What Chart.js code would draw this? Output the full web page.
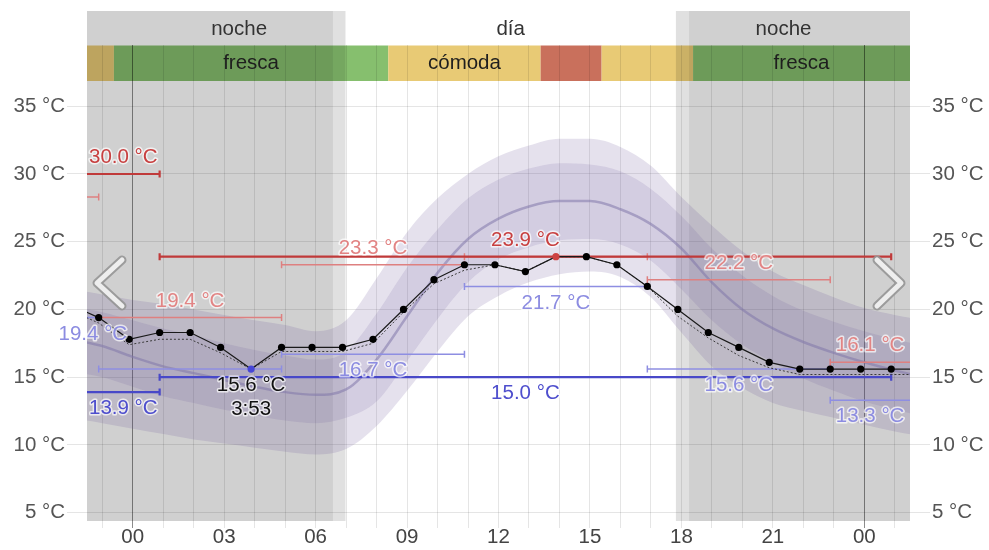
<!DOCTYPE html>
<html><head><meta charset="utf-8">
<script src="https://cdn.jsdelivr.net/npm/chart.js@4.4.1/dist/chart.umd.min.js"></script>
<style>html,body{margin:0;padding:0;background:#fff;overflow:hidden}canvas{display:block}</style>
</head><body>
<canvas id="c" width="989" height="550"></canvas>
<script>
// ---------- DATA ----------
// observation times (hours, observations at hh:53)
const obsTimes = [-2.117,-1.117,-0.117,0.883,1.883,2.883,3.883,4.883,5.883,6.883,7.883,8.883,9.883,10.883,11.883,12.883,13.883,14.883,15.883,16.883,17.883,18.883,19.883,20.883,21.883,22.883,23.883,24.883,25.883];
const obsTemps = [20.4,19.4,17.8,18.3,18.3,17.2,15.6,17.2,17.2,17.2,17.8,20.0,22.2,23.3,23.3,22.8,23.9,23.9,23.3,21.7,20.0,18.3,17.2,16.1,15.6,15.6,15.6,15.6,15.6];
const altTemps = [20.0,19.0,17.4,17.8,17.8,16.8,15.6,16.9,16.9,16.9,17.5,19.8,21.9,22.9,23.3,22.8,23.9,23.9,23.3,21.7,19.5,17.9,16.6,15.7,15.2,15.2,15.2,15.2,15.2];
const obsComfort = ['cómoda','cómoda','fresca','fresca','fresca','fresca','fresca','fresca','fresca','fresca','fresca','cómoda','cómoda','cómoda','cómoda','cómoda','caliente','caliente','cómoda','cómoda','cómoda','fresca','fresca','fresca','fresca','fresca','fresca','fresca','fresca'];

// historical distribution (hourly)
const histHours = [-2,-1,0,1,2,3,4,5,6,7,8,9,10,11,12,13,14,15,16,17,18,19,20,21,22,23,24,25,26];
const histAvg = [17.8,17.3,16.5,15.8,15.3,14.8,14.3,13.9,13.7,14.1,16.3,19.5,22.7,25.2,26.7,27.6,28.0,28.0,27.4,26.3,24.5,22.0,20.0,18.6,17.6,16.8,16.1,15.5,15.0];
const histP75 = [20.2,19.8,19.2,18.6,18.1,17.5,17.0,16.6,16.3,16.9,19.7,23.1,25.9,28.2,29.6,30.4,30.8,30.7,30.2,28.9,26.9,24.5,22.5,21.0,19.9,19.1,18.4,17.8,17.3];
const histP25 = [15.4,15.0,14.3,13.6,13.1,12.6,12.2,11.8,11.6,12.0,13.2,16.2,19.3,22.0,23.7,24.6,25.1,25.2,24.8,23.6,21.5,19.2,17.4,16.1,14.9,14.0,13.2,12.6,12.1];
const histP90 = [21.5,21.1,20.7,20.4,20.0,19.6,19.2,18.85,18.4,19.2,22.3,25.7,28.2,30.0,31.3,32.1,32.6,32.6,32.0,30.6,28.3,26.2,24.3,22.8,21.8,20.9,20.1,19.6,19.2];
const histP10 = [12.0,11.6,11.2,10.8,10.4,10.1,9.8,9.5,9.3,9.7,11.4,14.0,16.9,19.5,21.0,22.0,22.6,22.8,22.4,20.9,18.3,15.8,14.2,13.1,12.5,12.0,11.5,11.0,10.6];

// 24-hour high / low bars
const dayStart = [-23.117, 0.883];
const dayEnd   = [0.883, 24.883];
const dayHigh  = [30.0, 23.9];
const dayLow   = [13.9, 15.0];
// 6-hour high / low bars
const sixStart = [-7.117,-1.117,4.883,10.883,16.883,22.883];
const sixEnd   = [-1.117,4.883,10.883,16.883,22.883,28.883];
const sixHigh  = [28.3,19.4,23.3,23.9,22.2,16.1];
const sixLow   = [19.4,15.6,16.7,21.7,15.6,13.3];

// daylight
const shadeStart = [-1.5, 6.57, 17.82, 18.25];
const shadeEnd   = [6.57, 6.98, 18.25, 25.5];
const shadeKind  = ['night','twilight','twilight','night'];
const periodLabels = ['noche','día','noche'];
const periodFrom = [0, 6.98, 17.82];
const periodTo   = [6.98, 17.82, 24.88];

// axes
const xTickHours = [-1,0,1,2,3,4,5,6,7,8,9,10,11,12,13,14,15,16,17,18,19,20,21,22,23,24,25];
const yTicks = [5,10,15,20,25,30,35];
const X_MIN = -1.5, X_MAX = 25.5, Y_MIN = 4.3875, Y_MAX = 39.52;

// ---------- STYLE ----------
const FONT_FAMILY = "'Liberation Sans', Arial, sans-serif";
const FONT = "20.5px " + FONT_FAMILY;
const comfortColor = {'fresca':'rgb(134,191,110)','cómoda':'rgb(232,202,117)','caliente':'rgb(201,112,92)'};
const DARK_RED='rgb(192,58,58)', DARK_RED_T='rgb(200,64,64)', FADE_RED='rgb(222,128,128)', FADE_RED_T='rgb(226,132,132)';
const DARK_BLUE='rgb(72,72,200)', DARK_BLUE_T='rgb(78,78,205)', FADE_BLUE='rgb(142,142,226)', FADE_BLUE_T='rgb(140,140,225)';

Chart.defaults.font.family = FONT_FAMILY;
Chart.defaults.font.size = 20.5;

const xy = (xs, ys) => xs.map((x, i) => ({x, y: ys[i]}));

// min / max within the day
let minI = -1, maxI = -1;
obsTimes.forEach((t, i) => {
  if (t < dayStart[1] - 1e-6 || t > dayEnd[1] + 1e-6) return;
  if (minI < 0 || obsTemps[i] < obsTemps[minI]) minI = i;
  if (maxI < 0 || obsTemps[i] > obsTemps[maxI]) maxI = i;
});

function comfortSegments() {
  const segs = [];
  obsTimes.forEach((t, i) => {
    const c = obsComfort[i], last = segs[segs.length - 1];
    if (last && last.cat === c) last.to = t + 0.5; else segs.push({cat: c, from: t - 0.5, to: t + 0.5});
  });
  return segs;
}

let pendingLabels = [];

function haloText(ctx, text, cx, cy, color) {
  ctx.font = FONT; ctx.textAlign = 'center'; ctx.textBaseline = 'middle';
  ctx.lineJoin = 'round'; ctx.strokeStyle = 'rgba(255,255,255,0.7)'; ctx.lineWidth = 3;
  ctx.strokeText(text, cx, cy); ctx.fillStyle = color; ctx.fillText(text, cx, cy);
}

function drawBar(chart, from, to, value, color, lw, textColor, above, prio) {
  const {ctx, chartArea: a, scales: {x, y}} = chart;
  const xa0 = x.getPixelForValue(from), xb0 = x.getPixelForValue(to);
  const xa = Math.max(xa0, a.left), xb = Math.min(xb0, a.right);
  if (xb <= xa) return;
  const yy = y.getPixelForValue(value);
  ctx.save();
  ctx.strokeStyle = color; ctx.lineWidth = lw; ctx.lineCap = 'butt';
  ctx.beginPath(); ctx.moveTo(xa, yy); ctx.lineTo(xb, yy);
  if (xa0 >= a.left) { ctx.moveTo(xa0, yy - 3.5); ctx.lineTo(xa0, yy + 3.5); }
  if (xb0 <= a.right) { ctx.moveTo(xb0, yy - 3.5); ctx.lineTo(xb0, yy + 3.5); }
  ctx.stroke();
  ctx.restore();
  pendingLabels.push({text: value.toFixed(1) + ' °C', cx: (xa + xb) / 2, cy: yy + (above ? -16.5 : 16.5), color: textColor, prio});
}

const overlay = {
  id: 'overlay',
  beforeDraw(chart) {
    const {ctx, chartArea: a, scales: {x}} = chart;
    ctx.save();
    comfortSegments().forEach(s => {
      const xa = Math.max(x.getPixelForValue(s.from), a.left), xb = Math.min(x.getPixelForValue(s.to), a.right);
      if (xb <= xa) return;
      ctx.fillStyle = comfortColor[s.cat];
      ctx.fillRect(xa, a.top + 0.5, xb - xa, 35.5);
    });
    ctx.restore();
  },
  beforeDatasetsDraw(chart) {
    const {ctx, chartArea: a, scales: {x}} = chart;
    ctx.save();
    shadeStart.forEach((s, i) => {
      const xa = Math.max(x.getPixelForValue(s), a.left), xb = Math.min(x.getPixelForValue(shadeEnd[i]), a.right);
      ctx.fillStyle = shadeKind[i] === 'night' ? 'rgba(0,0,0,0.185)' : 'rgba(0,0,0,0.12)';
      ctx.fillRect(xa, 11, xb - xa, a.bottom - 11);
    });
    ctx.font = FONT; ctx.textAlign = 'center'; ctx.textBaseline = 'middle'; ctx.fillStyle = '#333';
    periodLabels.forEach((t, i) => {
      ctx.fillText(t, x.getPixelForValue((periodFrom[i] + periodTo[i]) / 2), 29);
    });
    ctx.fillStyle = '#1e1e1e';
    comfortSegments().forEach(s => {
      const xa = Math.max(x.getPixelForValue(s.from), a.left), xb = Math.min(x.getPixelForValue(s.to), a.right);
      const w = ctx.measureText(s.cat).width;
      if (xb - xa > w + 40) ctx.fillText(s.cat, (xa + xb) / 2, a.top + 18.5);
    });
    ctx.restore();
  },
  afterDatasetDraw(chart, args) {
    if (args.index !== 2) return;
    pendingLabels = [];
    const ctx = chart.ctx;
    ctx.save();
    sixStart.forEach((s, i) => {
      drawBar(chart, s, sixEnd[i], sixHigh[i], FADE_RED, 1.5, FADE_RED_T, true, 3);
      drawBar(chart, s, sixEnd[i], sixLow[i], FADE_BLUE, 1.5, FADE_BLUE_T, false, 3);
    });
    dayStart.forEach((s, i) => {
      drawBar(chart, s, dayEnd[i], dayHigh[i], DARK_RED, 2.2, DARK_RED_T, true, 1);
      drawBar(chart, s, dayEnd[i], dayLow[i], DARK_BLUE, 2.2, DARK_BLUE_T, false, 1);
    });
    ctx.restore();
  },
  afterDatasetsDraw(chart) {
    const {ctx, scales: {x, y}} = chart;
    ctx.save();
    const placed = [];
    const tryPlace = (L) => {
      ctx.font = FONT;
      const w = ctx.measureText(L.text).width;
      const box = {l: L.cx - w / 2 - 2, r: L.cx + w / 2 + 2, t: L.cy - 14, b: L.cy + 14};
      if (placed.some(p => box.l < p.r && box.r > p.l && box.t < p.b && box.b > p.t)) return;
      placed.push(box);
      haloText(ctx, L.text, L.cx, L.cy, L.color);
    };
    pendingLabels.filter(l => l.prio === 1).forEach(tryPlace);
    const mx = x.getPixelForValue(obsTimes[minI]), my = y.getPixelForValue(obsTemps[minI]);
    const t = obsTimes[minI], hh = Math.floor(t), mm = Math.round((t - hh) * 60);
    const minText = obsTemps[minI].toFixed(1) + ' °C';
    ctx.font = FONT;
    const mw = ctx.measureText(minText).width;
    placed.push({l: mx - mw / 2 - 2, r: mx + mw / 2 + 2, t: my + 2, b: my + 54});
    haloText(ctx, minText, mx, my + 16.5, '#111');
    haloText(ctx, hh + ':' + String(mm).padStart(2, '0'), mx, my + 40.5, '#111');
    pendingLabels.filter(l => l.prio === 3).forEach(tryPlace);
    const chev = (pts) => {
      ctx.lineCap = 'round'; ctx.lineJoin = 'round';
      ctx.beginPath(); ctx.moveTo(pts[0], pts[1]); ctx.lineTo(pts[2], pts[3]); ctx.lineTo(pts[4], pts[5]);
      ctx.strokeStyle = 'rgba(150,150,150,0.9)'; ctx.lineWidth = 9; ctx.stroke();
      ctx.strokeStyle = 'rgba(238,238,238,1)'; ctx.lineWidth = 5; ctx.stroke();
    };
    chev([122, 260, 97, 283, 122, 306]);
    chev([877, 260, 901, 283, 877, 306]);
    ctx.restore();
  }
};

const bandCommon = {pointRadius: 0, borderWidth: 0, borderColor: 'rgba(0,0,0,0)', cubicInterpolationMode: 'monotone', clip: 0};

new Chart(document.getElementById('c'), {
  type: 'line',
  data: {
    datasets: [
      {label: 'obs', data: xy(obsTimes, obsTemps), borderColor: '#1a1a1a', borderWidth: 1.2, tension: 0, clip: 0, order: 0,
       pointRadius: 3.6, pointBorderWidth: 0, pointHoverRadius: 0,
       pointBackgroundColor: c => c.dataIndex === minI ? 'rgb(70,70,215)' : (c.dataIndex === maxI ? 'rgb(205,66,66)' : '#000')},
      {label: 'alt', data: xy(obsTimes, altTemps), borderColor: '#3a3a3a', borderWidth: 1, borderDash: [2, 2], tension: 0, pointRadius: 0, clip: 0, order: 1},
      {label: 'avg', data: xy(histHours, histAvg), ...bandCommon, borderColor: 'rgba(130,120,170,0.55)', borderWidth: 2.5, order: 2},
      {label: 'p75', data: xy(histHours, histP75), ...bandCommon, fill: 4, backgroundColor: 'rgba(100,80,150,0.14)', order: 3},
      {label: 'p25', data: xy(histHours, histP25), ...bandCommon, order: 4},
      {label: 'p90', data: xy(histHours, histP90), ...bandCommon, fill: 6, backgroundColor: 'rgba(100,80,150,0.17)', order: 5},
      {label: 'p10', data: xy(histHours, histP10), ...bandCommon, order: 6}
    ]
  },
  options: {
    responsive: false, animation: false, events: [],
    layout: {padding: {top: 45, left: 0, right: 0, bottom: 0}},
    plugins: {legend: {display: false}, tooltip: {enabled: false}},
    scales: {
      x: {
        type: 'linear', min: X_MIN, max: X_MAX,
        afterBuildTicks: s => { s.ticks = xTickHours.map(v => ({value: v})); },
        afterFit: s => { s.height = 29; },
        border: {display: false},
        grid: {color: c => (c.tick && c.tick.value % 24 === 0) ? 'rgba(0,0,0,0.45)' : 'rgba(0,0,0,0.1)', tickLength: 7, drawTicks: true},
        ticks: {autoSkip: false, maxRotation: 0, minRotation: 0, padding: -3, color: '#444',
                callback: v => (v % 3 === 0) ? String(((v % 24) + 24) % 24).padStart(2, '0') : ''}
      },
      y: {
        position: 'left', min: Y_MIN, max: Y_MAX,
        afterBuildTicks: s => { s.ticks = yTicks.map(v => ({value: v})); },
        afterFit: s => { s.width = 87; },
        border: {display: false},
        grid: {color: 'rgba(0,0,0,0.1)', tickLength: 20},
        ticks: {padding: 2, color: '#555', callback: v => v + ' °C'}
      },
      y2: {
        position: 'right', min: Y_MIN, max: Y_MAX,
        afterBuildTicks: s => { s.ticks = yTicks.map(v => ({value: v})); },
        afterFit: s => { s.width = 79; },
        border: {display: false},
        grid: {color: 'rgba(0,0,0,0.1)', tickLength: 20, drawOnChartArea: false},
        ticks: {padding: 2, color: '#555', callback: v => v + ' °C'}
      }
    }
  },
  plugins: [overlay]
});
</script>
</body></html>
